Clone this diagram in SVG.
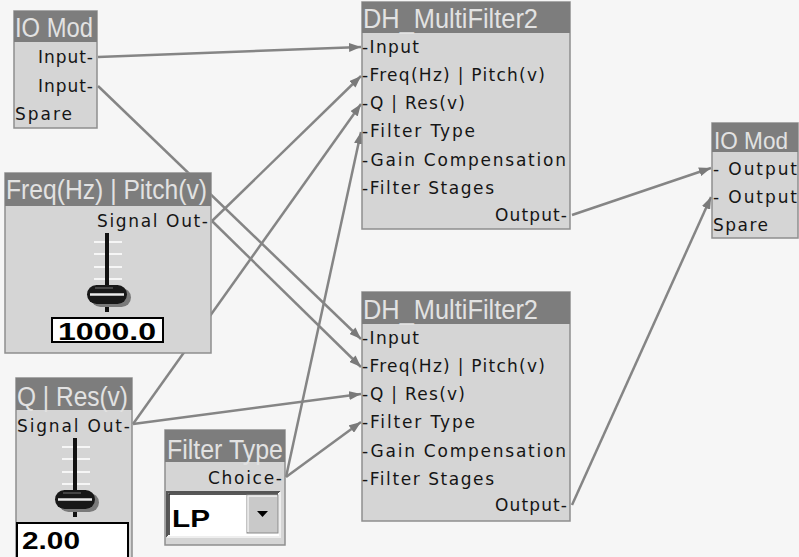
<svg xmlns="http://www.w3.org/2000/svg" xmlns:xlink="http://www.w3.org/1999/xlink" width="799" height="557" viewBox="0 0 799 557">
  <style>
    .box { fill: #d5d5d5; stroke: #8e8e8e; stroke-width: 1.5; }
    .bar { fill: #7d7d7d; }
    .ttl { font-family: "Liberation Sans", Arial, sans-serif; font-size: 27px; fill: #e2e2e2; }
    .lbl { font-family: "DejaVu Sans", "Liberation Sans", sans-serif; font-size: 17px; fill: #151515; }
    .val { font-family: "Liberation Sans", Arial, sans-serif; font-size: 24px; font-weight: bold; fill: #000; }
    .wire { stroke: #858585; stroke-width: 2.5; fill: none; marker-end: url(#tip); }
    .vbox { fill: #fff; stroke: #000; stroke-width: 2; }
  </style>
  <defs>
    <marker id="tip" markerUnits="userSpaceOnUse" markerWidth="13" markerHeight="9" refX="12" refY="4.5" orient="auto">
      <path d="M0,0 L12,4.5 L0,9 z" fill="#7a7a7a"/>
    </marker>
    <!-- vertical fader: track, scale ticks and knob -->
    <g id="fader">
      <g stroke="#f6f6f6" stroke-width="2">
        <line x1="-13" y1="9" x2="15" y2="9"/>
        <line x1="-13" y1="21" x2="15" y2="21"/>
        <line x1="-13" y1="34" x2="15" y2="34"/>
        <line x1="-13" y1="46" x2="15" y2="46"/>
      </g>
      <rect x="-2" y="0" width="4" height="79" fill="#111"/>
      <rect x="-16" y="55" width="40" height="19" rx="9.5" fill="#7a7a7a"/>
      <rect x="-20" y="52" width="40" height="19" rx="9.5" fill="#181818"/>
      <line x1="-17" y1="61.5" x2="17" y2="61.5" stroke="#eaeaea" stroke-width="2.5"/>
      <line x1="-12" y1="55" x2="6" y2="55" stroke="#555" stroke-width="1.5"/>
    </g>
  </defs>

  <rect x="0" y="0" width="799" height="557" fill="#f6f6f6"/>

  <!-- connectors -->
  <g id="connectors">
    <line class="wire" x1="98" y1="57" x2="361" y2="47"/>
    <line class="wire" x1="98" y1="86" x2="361" y2="339"/>
    <line class="wire" x1="212" y1="221" x2="361" y2="76"/>
    <line class="wire" x1="212" y1="221" x2="361" y2="367"/>
    <line class="wire" x1="133" y1="424" x2="361" y2="104"/>
    <line class="wire" x1="133" y1="424" x2="361" y2="394"/>
    <line class="wire" x1="286" y1="477" x2="361" y2="132"/>
    <line class="wire" x1="286" y1="477" x2="361" y2="422"/>
    <line class="wire" x1="572" y1="215" x2="711" y2="168"/>
    <line class="wire" x1="572" y1="505" x2="711" y2="197"/>
  </g>

  <!-- input module -->
  <g id="io-in">
    <rect class="box" x="14" y="11" width="83" height="117"/>
    <rect class="bar" x="14" y="11" width="83" height="31"/>
    <text class="ttl" x="15" y="37" textLength="78" lengthAdjust="spacingAndGlyphs">IO Mod</text>
    <text class="lbl" x="38" y="63" textLength="55" lengthAdjust="spacing">Input-</text>
    <text class="lbl" x="38" y="92" textLength="55" lengthAdjust="spacing">Input-</text>
    <text class="lbl" x="15" y="120" textLength="57" lengthAdjust="spacing">Spare</text>
  </g>

  <!-- frequency fader -->
  <g id="freq">
    <rect class="box" x="5" y="173" width="206" height="180"/>
    <rect class="bar" x="5" y="173" width="206" height="33"/>
    <text class="ttl" x="6" y="199" textLength="201" lengthAdjust="spacingAndGlyphs">Freq(Hz) | Pitch(v)</text>
    <text class="lbl" x="97" y="227" textLength="111" lengthAdjust="spacing">Signal Out-</text>
    <use xlink:href="#fader" href="#fader" x="107" y="233"/>
    <rect class="vbox" x="52" y="318" width="111" height="24"/>
    <text class="val" x="58" y="340" textLength="98" lengthAdjust="spacingAndGlyphs">1000.0</text>
  </g>

  <!-- resonance fader -->
  <g id="res">
    <rect class="box" x="16" y="378" width="116" height="185"/>
    <rect class="bar" x="16" y="378" width="116" height="32"/>
    <text class="ttl" x="17" y="406" textLength="111" lengthAdjust="spacingAndGlyphs">Q | Res(v)</text>
    <text class="lbl" x="17" y="432" textLength="113" lengthAdjust="spacing">Signal Out-</text>
    <use xlink:href="#fader" href="#fader" x="75" y="438"/>
    <rect class="vbox" x="17" y="523" width="111" height="40"/>
    <text class="val" x="22" y="549" textLength="58" lengthAdjust="spacingAndGlyphs">2.00</text>
  </g>

  <!-- filter type chooser -->
  <g id="filter-type">
    <rect class="box" x="165" y="430" width="120" height="115"/>
    <rect class="bar" x="165" y="430" width="120" height="32"/>
    <text class="ttl" x="167" y="459" textLength="116" lengthAdjust="spacingAndGlyphs">Filter Type</text>
    <text class="lbl" x="208" y="484" textLength="74" lengthAdjust="spacing">Choice-</text>
    <rect x="167" y="492" width="113" height="45" fill="#fff"/>
    <path d="M167,537 V492 H280" fill="none" stroke="#555" stroke-width="2"/>
    <path d="M169,535 V494 H278" fill="none" stroke="#222" stroke-width="1.5"/>
    <path d="M167,537 H280 V492" fill="none" stroke="#eee" stroke-width="2"/>
    <rect x="247" y="495" width="31" height="38" fill="#c9c9c9" stroke="#8a8a8a" stroke-width="1"/>
    <path d="M248,532 V496 H277" fill="none" stroke="#f2f2f2" stroke-width="1.5"/>
    <path d="M257,511 h11 l-5.5,6 z" fill="#000"/>
    <text class="val" x="172" y="527" textLength="38" lengthAdjust="spacingAndGlyphs">LP</text>
  </g>

  <!-- upper filter -->
  <g id="filter-1">
    <rect class="box" x="362" y="2" width="208" height="227"/>
    <rect class="bar" x="362" y="2" width="208" height="31"/>
    <text class="ttl" x="363" y="28" textLength="175" lengthAdjust="spacingAndGlyphs">DH_MultiFilter2</text>
    <text class="lbl" x="362" y="53" textLength="57" lengthAdjust="spacing">-Input</text>
    <text class="lbl" x="362" y="81" textLength="183" lengthAdjust="spacing">-Freq(Hz) | Pitch(v)</text>
    <text class="lbl" x="362" y="109" textLength="103" lengthAdjust="spacing">-Q | Res(v)</text>
    <text class="lbl" x="362" y="137" textLength="113" lengthAdjust="spacing">-Filter Type</text>
    <text class="lbl" x="362" y="166" textLength="204" lengthAdjust="spacing">-Gain Compensation</text>
    <text class="lbl" x="362" y="194" textLength="132" lengthAdjust="spacing">-Filter Stages</text>
    <text class="lbl" x="495" y="221" textLength="72" lengthAdjust="spacing">Output-</text>
  </g>

  <!-- lower filter -->
  <g id="filter-2">
    <rect class="box" x="362" y="292" width="208" height="229"/>
    <rect class="bar" x="362" y="292" width="208" height="32"/>
    <text class="ttl" x="363" y="319" textLength="175" lengthAdjust="spacingAndGlyphs">DH_MultiFilter2</text>
    <text class="lbl" x="362" y="344" textLength="57" lengthAdjust="spacing">-Input</text>
    <text class="lbl" x="362" y="372" textLength="183" lengthAdjust="spacing">-Freq(Hz) | Pitch(v)</text>
    <text class="lbl" x="362" y="400" textLength="103" lengthAdjust="spacing">-Q | Res(v)</text>
    <text class="lbl" x="362" y="428" textLength="113" lengthAdjust="spacing">-Filter Type</text>
    <text class="lbl" x="362" y="457" textLength="204" lengthAdjust="spacing">-Gain Compensation</text>
    <text class="lbl" x="362" y="485" textLength="132" lengthAdjust="spacing">-Filter Stages</text>
    <text class="lbl" x="495" y="511" textLength="72" lengthAdjust="spacing">Output-</text>
  </g>

  <!-- output module -->
  <g id="io-out">
    <rect class="box" x="712" y="123" width="86" height="115"/>
    <rect class="bar" x="712" y="123" width="86" height="29"/>
    <text class="ttl" x="714" y="149" style="font-size:24px" textLength="74" lengthAdjust="spacingAndGlyphs">IO Mod</text>
    <text class="lbl" x="713" y="175" textLength="84" lengthAdjust="spacing">- Output</text>
    <text class="lbl" x="713" y="203" textLength="84" lengthAdjust="spacing">- Output</text>
    <text class="lbl" x="713" y="231" textLength="55" lengthAdjust="spacing">Spare</text>
  </g>
</svg>
